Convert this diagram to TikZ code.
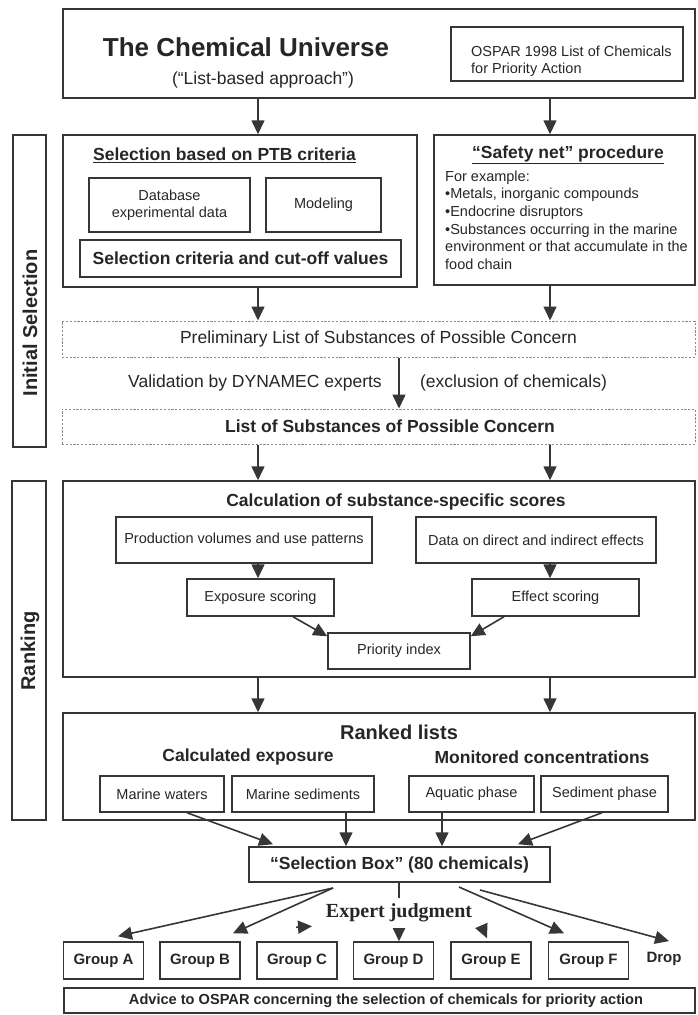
\documentclass[tikz,border=0pt]{standalone}
\usepackage{fontspec}
\setmainfont{Liberation Sans}
\newfontfamily\serifbold{Liberation Serif}
\usetikzlibrary{arrows.meta}
\newcommand\fsz[2]{\fontsize{#1}{#2}\selectfont}
\definecolor{linec}{HTML}{363636}
\definecolor{textc}{HTML}{262626}
\definecolor{dashc}{HTML}{8A8A8A}
\begin{document}
\begin{tikzpicture}[x=1pt,y=-1pt,
  bx/.style n args={2}{draw=linec,line width=1.5pt,minimum width=#1,minimum height=#2,inner sep=0pt,text=textc,align=center},
  dbx/.style n args={2}{draw=dashc,line width=1pt,dash pattern=on 2.2pt off 1.6pt,minimum width=#1,minimum height=#2,inner sep=0pt,text=textc},
  txt/.style={inner sep=0pt,text=textc},
  hd/.style={font=\fsz{17.5}{20}\bfseries},
  md/.style={font=\fsz{17.5}{20}},
  sm/.style={font=\fsz{14.5}{17}},
  grp/.style={bx={80pt}{37pt},font=\fsz{15}{18}\bfseries},
  arr/.style={draw=linec,line width=1.6pt,-{Triangle[length=14pt,width=13pt]}}]
\useasboundingbox (0,0) rectangle (698,1015);
\coordinate (cL) at (258,0);
\coordinate (cR) at (550,0);
\coordinate (cV) at (399,0);
% side labels
\node[bx={33pt}{312pt}] (sideI) at (29.5,291) {};
\node[txt,rotate=90,font=\fsz{20}{24}\bfseries] (lblI) at (30,323) {Initial Selection};
\node[bx={34pt}{339pt}] (sideR) at (29,650.5) {};
\node[txt,rotate=90,font=\fsz{20}{24}\bfseries] (lblR) at (30,651) {Ranking};
% top
\node[bx={632pt}{89pt}] (top) at (379,53.5) {};
\node[txt,font=\fsz{26}{30}\bfseries] (tcu) at (246,47) {The Chemical Universe};
\node[txt,md] (lba) at (263,80) {(“List-based approach”)};
\node[bx={232pt}{54pt}] (ospar) at (567,54) {};
\node[txt,sm,align=left,anchor=west] (ospt) at (471,61) {OSPAR 1998 List of Chemicals\\for Priority Action};
% PTB
\node[bx={354pt}{152pt}] (ptb) at (240,211) {};
\node[txt,hd] (ptbt) at (224.5,155) {\underline{Selection based on PTB criteria}};
\node[bx={161pt}{54pt},sm] (db) at (169.5,205) {Database\\experimental data};
\node[bx={115pt}{54pt},sm] (mod) at (323.5,205) {Modeling};
\node[bx={321pt}{37pt},hd] (crit) at (240.5,258.5) {Selection criteria and cut-off values};
% safety net
\node[bx={261pt}{150pt}] (safe) at (564.5,210) {};
\node[txt,hd] (safet) at (568,155) {\underline{“Safety net” procedure}};
\node[txt,font=\fsz{14.5}{17.6},align=left,anchor=north west] (safeb) at (445,170.5) {For example:\\•Metals, inorganic compounds\\•Endocrine disruptors\\•Substances occurring in the marine\\environment or that accumulate in the\\food chain};
\draw[arr] (top.south -| cL) -- (ptb.north -| cL);
\draw[arr] (top.south -| cR) -- (safe.north -| cR);
% preliminary
\node[dbx={633pt}{36pt},md] (pre) at (378.5,339) {Preliminary List of Substances of Possible Concern};
\draw[arr] (ptb.south -| cL) -- (pre.north -| cL);
\draw[arr] (safe.south -| cR) -- (pre.north -| cR);
\node[txt,md] (val) at (255,383) {Validation by DYNAMEC experts};
\node[txt,md] (excl) at (513.5,383) {(exclusion of chemicals)};
\node[dbx={633pt}{35pt}] (lst) at (378.5,426.5) {};
\node[txt,hd] (lstt) at (390,426) {List of Substances of Possible Concern};
\draw[arr] (pre.south -| cV) -- (lst.north -| cV);
% calculation
\node[bx={632pt}{196pt}] (calc) at (379,579) {};
\draw[arr] (lst.south -| cL) -- (calc.north -| cL);
\draw[arr] (lst.south -| cR) -- (calc.north -| cR);
\node[txt,hd] (calct) at (396,502) {Calculation of substance-specific scores};
\node[bx={256pt}{46pt},sm] (prod) at (244,540) {Production volumes and use patterns};
\node[bx={240pt}{46pt},sm] (data) at (536,540) {Data on direct and indirect effects};
\node[bx={147pt}{37pt},sm] (expo) at (260.5,597.5) {Exposure scoring};
\node[bx={167pt}{37pt},sm] (eff) at (555.5,597.5) {Effect scoring};
\node[bx={142pt}{36pt},sm] (prio) at (399,651) {Priority index};
\draw[arr] (prod.south -| cL) -- (expo.north -| cL);
\draw[arr] (data.south -| cR) -- (eff.north -| cR);
\draw[arr] ([xshift=32.5pt]expo.south) -- ([yshift=-4pt]prio.north west);
\draw[arr] ([xshift=-51.5pt]eff.south) -- ([yshift=-4pt]prio.north east);
% ranked lists
\node[bx={632pt}{107pt}] (rank) at (379,766.5) {};
\draw[arr] (calc.south -| cL) -- (rank.north -| cL);
\draw[arr] (calc.south -| cR) -- (rank.north -| cR);
\node[txt,font=\fsz{20}{24}\bfseries] (rankt) at (399,732) {Ranked lists};
\node[txt,hd] (cexp) at (248,757) {Calculated exposure};
\node[txt,hd] (mcon) at (542,757) {Monitored concentrations};
\node[bx={124pt}{36pt},sm] (mw) at (162,794) {Marine waters};
\node[bx={142pt}{36pt},sm] (ms) at (303,794) {Marine sediments};
\node[bx={125pt}{36pt},sm] (ap) at (471.5,794) {Aquatic phase};
\node[bx={127pt}{36pt},sm] (sp) at (604.5,794) {Sediment phase};
% selection box
\node[bx={301pt}{35pt},hd] (sel) at (399.5,864.5) {“Selection Box” (80 chemicals)};
\draw[arr] ([xshift=25pt]mw.south) -- ([xshift=-126.5pt,yshift=2pt]sel.north);
\draw[arr] ([xshift=43pt]ms.south) -- ([xshift=-53.5pt]sel.north);
\draw[arr] ([xshift=-29.5pt]ap.south) -- ([xshift=42.5pt]sel.north);
\draw[arr] ([xshift=-2.5pt]sp.south) -- ([xshift=118.5pt,yshift=2pt]sel.north);
% groups
\node[grp] (ga) at (103.5,960.5) {Group A};
\node[grp] (gb) at (200,960.5) {Group B};
\node[grp] (gc) at (297,960.5) {Group C};
\node[grp] (gd) at (393.5,960.5) {Group D};
\node[grp] (ge) at (491,960.5) {Group E};
\node[grp] (gf) at (588.5,960.5) {Group F};
\node[txt,font=\fsz{15}{18}\bfseries] (drop) at (664,959) {Drop};
\node[bx={631pt}{25pt}] (adv) at (379.5,1000.5) {};
\node[txt,font=\fsz{14.6}{17}\bfseries] (advt) at (386,1001) {Advice to OSPAR concerning the selection of chemicals for priority action};
% expert judgment arrows
\coordinate (sl) at (333,888);
\coordinate (sr1) at (459,887);
\coordinate (sr2) at (480,890);
\draw[arr] (sl) -- ([xshift=14.5pt,yshift=5pt]ga.north);
\draw[arr] (sl) -- ([xshift=33pt,yshift=8pt]gb.north);
\draw[arr] ([xshift=-1pt,yshift=14pt]gc.north) -- ([xshift=15pt,yshift=15pt]gc.north);
\draw[arr] (sel.south -| cV) -- (gd.north -| cV);
\draw[arr] ([xshift=-9.4pt,yshift=15.3pt]ge.north) -- ([xshift=-4pt,yshift=3pt]ge.north);
\draw[arr] (sr1) -- ([xshift=-24.5pt,yshift=8pt]gf.north);
\draw[arr] (sr2) -- ([xshift=5pt,yshift=11pt]drop.north);
\node[txt,fill=white,minimum height=30pt,inner xsep=2pt,font=\serifbold\fsz{20}{24}\bfseries] (exj) at (399,913) {Expert judgment};
\end{tikzpicture}
\end{document}
